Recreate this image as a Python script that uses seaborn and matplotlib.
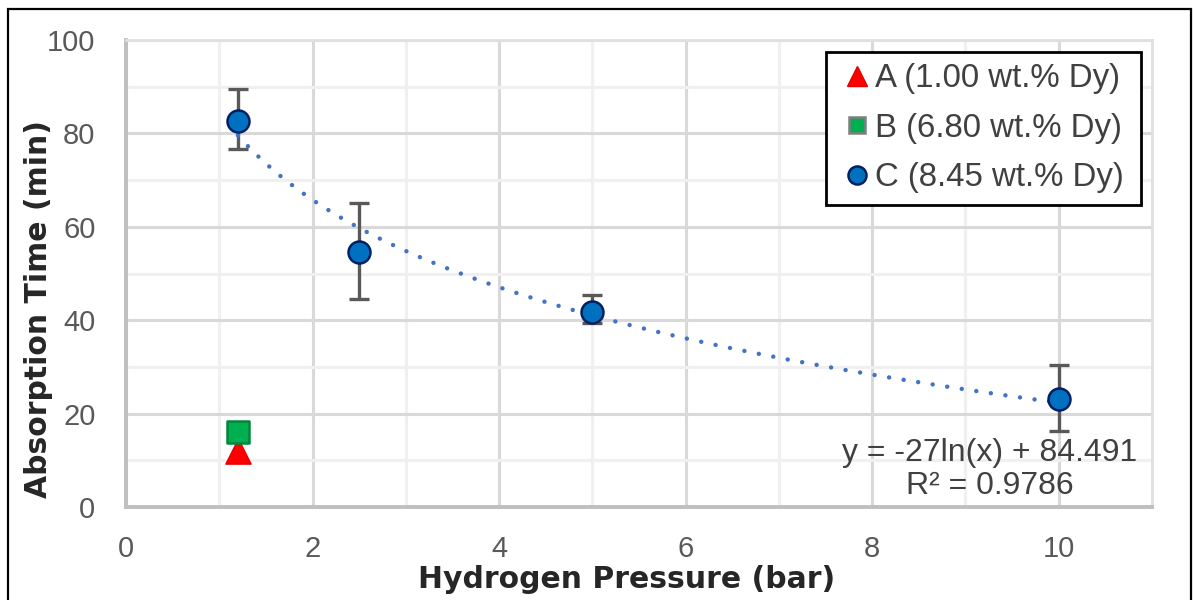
import numpy as np
import pandas as pd
import seaborn as sns
import matplotlib.pyplot as plt
from matplotlib.lines import Line2D
from matplotlib.patches import Rectangle

sns.set_theme(style="white")
plt.rcParams['font.family'] = ['Liberation Sans', 'DejaVu Sans']

# sample A and B (single pressure)
a_pressure = [1.2]
a_time = [12.0]
b_pressure = [1.2]
b_time = [16.0]

# sample C with error bars
c_pressure = [1.2, 2.5, 5.0, 10.0]
c_time = [82.7, 54.5, 41.8, 23.1]
c_err_low = [6.0, 10.0, 2.5, 6.8]
c_err_high = [6.8, 10.5, 3.6, 7.4]

# logarithmic trendline as printed on the chart
fit_slope = -27
fit_intercept = 84.491
fit_r2 = 0.9786

labels = ['A (1.00 wt.% Dy)', 'B (6.80 wt.% Dy)', 'C (8.45 wt.% Dy)']
text_col = '#404040'
tick_col = '#595959'


def main():
    fig = plt.figure(figsize=(11.94, 6.0), dpi=100)
    ax = fig.add_axes([126 / 1194, 1 - 507 / 600, 1026 / 1194, 467 / 600])

    # trendline
    xs = np.linspace(min(c_pressure), max(c_pressure), 200)
    trend = pd.DataFrame({'x': xs, 'y': fit_slope * np.log(xs) + fit_intercept})
    sns.lineplot(data=trend, x='x', y='y', ax=ax, color='#4472C4', lw=3.2,
                 linestyle=(0, (0.01, 3.3)), dash_capstyle='round', zorder=3,
                 legend=False)

    # error bars for C
    ax.errorbar(c_pressure, c_time, yerr=[c_err_low, c_err_high], fmt='none',
                ecolor='#595959', elinewidth=2.4, capsize=7.5, capthick=2.4,
                zorder=2)

    sns.scatterplot(x=a_pressure, y=a_time, ax=ax, marker='^', s=330,
                    color='#FF0000', edgecolor='#E00000', linewidth=1, zorder=4)
    sns.scatterplot(x=b_pressure, y=b_time, ax=ax, marker='s', s=230,
                    color='#00B050', edgecolor='#00873D', linewidth=1.8, zorder=5)
    sns.scatterplot(x=c_pressure, y=c_time, ax=ax, marker='o', s=250,
                    color='#0070C0', edgecolor='#002060', linewidth=1.8, zorder=5)

    ax.set_xlim(0, 11)
    ax.set_ylim(0, 100)
    ax.set_xticks(np.arange(0, 11, 2))
    ax.set_xticks(np.arange(1, 12, 2), minor=True)
    ax.set_yticks(np.arange(0, 101, 20))
    ax.set_yticks(np.arange(10, 100, 20), minor=True)
    ax.grid(which='major', color='#D9D9D9', lw=2.2, zorder=0)
    ax.grid(which='minor', color='#F0F0F0', lw=2.2, zorder=0)
    ax.set_axisbelow(True)
    ax.tick_params(which='both', length=0)
    ax.tick_params(axis='x', pad=20, labelsize=21, labelcolor=tick_col)
    ax.tick_params(axis='y', pad=22, labelsize=21, labelcolor=tick_col)

    for side in ['left', 'bottom']:
        ax.spines[side].set_color('#BFBFBF')
        ax.spines[side].set_linewidth(2.8)
    for side in ['top', 'right']:
        ax.spines[side].set_color('#E0E0E0')
        ax.spines[side].set_linewidth(2.0)

    ax.set_xlabel('Hydrogen Pressure (bar)', fontsize=21.5, fontweight='bold',
                  color='#262626', family=['DejaVu Sans'])
    ax.set_ylabel('Absorption Time (min)', fontsize=21.5, fontweight='bold',
                  color='#262626', family=['DejaVu Sans'])
    ax.xaxis.set_label_coords(0.488, -0.125)
    ax.yaxis.set_label_coords(-0.071, 0.425)

    eq = 'y = {}ln(x) + {}\nR² = {}'.format(fit_slope, fit_intercept, fit_r2)
    ax.text(9.26, 8.0, eq, ha='center', va='center', fontsize=23,
            color=text_col, linespacing=1.15, zorder=6)

    handles = [
        Line2D([], [], marker='^', ls='none', ms=15, color='#FF0000',
               markeredgecolor='#E00000'),
        Line2D([], [], marker='s', ls='none', ms=12, color='#00B050',
               markeredgecolor='#7F7F7F', markeredgewidth=1.8),
        Line2D([], [], marker='o', ls='none', ms=13, color='#0070C0',
               markeredgecolor='#002060', markeredgewidth=1.8),
    ]
    leg = fig.legend(handles, labels, loc='upper left', mode='expand',
                     bbox_to_anchor=(826 / 1194, 1 - 206 / 600, 315 / 1194, 154 / 600),
                     fontsize=23.8, frameon=True, fancybox=False, framealpha=1,
                     edgecolor='black', handlelength=1.2, handletextpad=-0.05,
                     labelspacing=0.56, borderpad=0.34, borderaxespad=0)
    leg.get_frame().set_linewidth(2.0)
    for t in leg.get_texts():
        t.set_color(text_col)

    fig.patches.append(Rectangle((8 / 1194, -0.02), 1183 / 1194, 1 - 9 / 600 + 0.02,
                                 transform=fig.transFigure, fill=False,
                                 edgecolor='black', lw=1.6))

    plt.savefig('out.png', dpi=100)


if __name__ == '__main__':
    main()
